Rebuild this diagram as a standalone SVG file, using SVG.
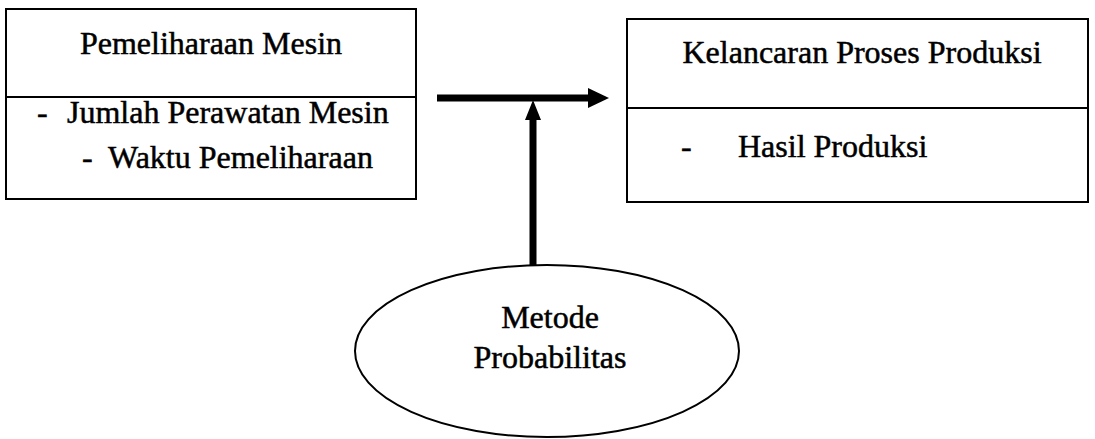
<svg xmlns="http://www.w3.org/2000/svg" width="1095" height="439" viewBox="0 0 1095 439">
<style>
.box{fill:#fff;stroke:#000;stroke-width:2}
.t{font-family:"Liberation Serif","Times New Roman",serif;font-size:32px;fill:#000;stroke:#000;stroke-width:0.5}
.c{text-anchor:middle}
.conn{stroke:#000;stroke-width:7;fill:none}
.head{fill:#000}
</style>
<rect width="1095" height="439" fill="#fff"/>
<g id="node-pemeliharaan">
<rect class="box" x="6" y="9" width="410" height="190"/>
<line x1="6" y1="97" x2="416" y2="97" stroke="#000" stroke-width="2"/>
<text class="t c" x="211" y="54">Pemeliharaan Mesin</text>
<text class="t" x="37" y="123">-</text>
<text class="t" x="67" y="123">Jumlah Perawatan Mesin</text>
<text class="t" x="82" y="168">-</text>
<text class="t" x="108" y="168">Waktu Pemeliharaan</text>
</g>
<g id="node-kelancaran">
<rect class="box" x="627" y="19" width="461" height="183"/>
<line x1="627" y1="108" x2="1088" y2="108" stroke="#000" stroke-width="2"/>
<text class="t c" x="862" y="63">Kelancaran Proses Produksi</text>
<text class="t" x="681" y="157">-</text>
<text class="t" x="738" y="157">Hasil Produksi</text>
</g>
<g id="node-metode">
<ellipse class="box" cx="547" cy="351" rx="192" ry="86"/>
<text class="t c" x="550" y="328">Metode</text>
<text class="t c" x="550" y="368">Probabilitas</text>
</g>
<g id="connectors">
<line class="conn" x1="437" y1="98" x2="592" y2="98"/>
<polygon class="head" points="588,88 609,98 588,108"/>
<line class="conn" x1="533" y1="265" x2="533" y2="116"/>
<polygon class="head" points="525,120 533,100 541,120"/>
</g>
</svg>
